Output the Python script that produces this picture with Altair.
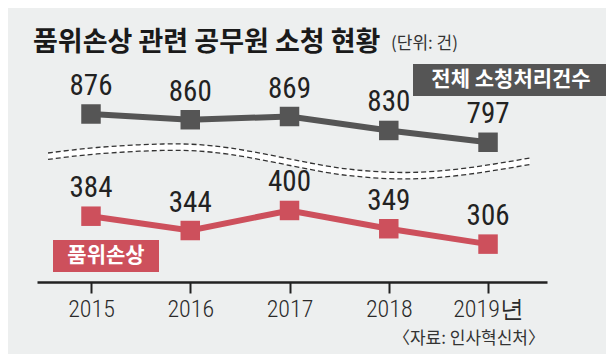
import altair as alt
import pandas as pd

# ---- data ----
years = [2015, 2016, 2017, 2018, 2019]
year_labels = ["2015", "2016", "2017", "2018", "2019년"]
total_cases = [876, 860, 869, 830, 797]      # 전체 소청처리건수
dignity_cases = [384, 344, 400, 349, 306]    # 품위손상

# axis-break squiggle (upper / lower edge, in the upper panel's value units)
break_years = [2014.567, 2015.061, 2015.726, 2016.401, 2017.207, 2017.680, 2018.184, 2018.789, 2019.423]
break_upper = [767.1, 782.4, 792.2, 781.0, 739.1, 719.6, 712.6, 725.2, 753.1]
break_lower = [v - 18 for v in break_upper]

title_text = "품위손상 관련 공무원 소청 현황"
unit_text = "(단위: 건)"
total_label = "전체 소청처리건수"
dignity_label = "품위손상"
source_text = "〈자료: 인사혁신처〉"

# ---- styling ----
BG = "#edefef"
GRAY = "#555555"
RED = "#cd505c"
NUM_FONT = "Roboto Condensed, Liberation Sans Narrow, Arial Narrow, Liberation Sans, sans-serif"
KR_FONT = "Noto Sans CJK KR"

X_DOMAIN = [2014.456, 2019.594]
GRAY_DOMAIN = [406.7, 1172.1]
RED_DOMAIN = [200.2, 965.6]

W, H = 510, 274

df_total = pd.DataFrame({"year": years, "value": total_cases})
df_dig = pd.DataFrame({"year": years, "value": dignity_cases})
df_break = pd.DataFrame({"year": break_years, "upper": break_upper, "lower": break_lower})
df_break_long = pd.concat([
    pd.DataFrame({"year": break_years, "v": break_upper, "edge": "u"}),
    pd.DataFrame({"year": break_years, "v": break_lower, "edge": "l"}),
])

label_expr = " : ".join(
    f"datum.value == {y} ? '{l}'" for y, l in zip(years, year_labels)
) + " : ''"

x_axis = alt.Axis(
    values=years, labelExpr=label_expr, title=None, grid=False,
    domainColor="#222222", domainWidth=2.5, tickColor="#222222", tickWidth=2,
    tickSize=11, labelFont=NUM_FONT, labelFontSize=24, labelFontWeight=300,
    labelColor="#2a2a2a", labelPadding=4, labelOverlap=False, labelFlush=False,
)
xs = alt.Scale(domain=X_DOMAIN, nice=False, zero=False)


def X(field="year"):
    return alt.X(f"{field}:Q", scale=xs, axis=x_axis)


def Y(field, domain):
    return alt.Y(f"{field}:Q", scale=alt.Scale(domain=domain, nice=False, zero=False), axis=None)


one = pd.DataFrame({"k": [0]})

# break band
band = alt.Chart(df_break).mark_area(color="#ffffff", interpolate="natural").encode(
    x=X(), y=Y("upper", GRAY_DOMAIN), y2="lower:Q"
)
band_lines = alt.Chart(df_break_long).mark_line(
    color="#333333", strokeWidth=1.3, strokeDash=[5, 3], interpolate="natural"
).encode(x=X(), y=Y("v", GRAY_DOMAIN), detail="edge:N")

# total series
g_line = alt.Chart(df_total).mark_line(color=GRAY, strokeWidth=6).encode(x=X(), y=Y("value", GRAY_DOMAIN))
g_pts = alt.Chart(df_total).mark_square(color=GRAY, size=380, opacity=1).encode(x=X(), y=Y("value", GRAY_DOMAIN))
g_txt = alt.Chart(df_total).mark_text(
    font=NUM_FONT, fontSize=29, dy=-19, baseline="alphabetic", color="#222222"
).encode(x=X(), y=Y("value", GRAY_DOMAIN), text="value:Q")

# dignity series
r_line = alt.Chart(df_dig).mark_line(color=RED, strokeWidth=6).encode(x=X(), y=Y("value", RED_DOMAIN))
r_pts = alt.Chart(df_dig).mark_square(color=RED, size=380, opacity=1).encode(x=X(), y=Y("value", RED_DOMAIN))
r_txt = alt.Chart(df_dig).mark_text(
    font=NUM_FONT, fontSize=29, dy=-19, baseline="alphabetic", color="#222222"
).encode(x=X(), y=Y("value", RED_DOMAIN), text="value:Q")

# annotations (title, series tags, source)
title = alt.Chart(one).mark_text(
    font=KR_FONT, fontSize=27, fontWeight="bold", align="left", baseline="middle", color="#1a1a1a"
).encode(x=alt.value(-4), y=alt.value(35), text=alt.value(title_text))
unit = alt.Chart(one).mark_text(
    font=KR_FONT, fontSize=17, align="left", baseline="middle", color="#333333"
).encode(x=alt.value(354), y=alt.value(36), text=alt.value(unit_text))

g_box = alt.Chart(one).mark_rect(color=GRAY).encode(
    x=alt.value(376), x2=alt.value(570), y=alt.value(56), y2=alt.value(88)
)
g_box_txt = alt.Chart(one).mark_text(
    font=KR_FONT, fontSize=21, fontWeight="bold", color="#ffffff", baseline="middle"
).encode(x=alt.value(474), y=alt.value(72), text=alt.value(total_label))

r_box = alt.Chart(one).mark_rect(color=RED).encode(
    x=alt.value(16), x2=alt.value(122), y=alt.value(232), y2=alt.value(264)
)
r_box_txt = alt.Chart(one).mark_text(
    font=KR_FONT, fontSize=21, fontWeight="bold", color="#ffffff", baseline="middle"
).encode(x=alt.value(69), y=alt.value(248), text=alt.value(dignity_label))

source = alt.Chart(one).mark_text(
    font=KR_FONT, fontSize=17, align="right", baseline="middle", color="#333333"
).encode(x=alt.value(508), y=alt.value(331), text=alt.value(source_text))

chart = alt.layer(
    band, band_lines, g_line, g_pts, g_txt, r_line, r_pts, r_txt,
    title, unit, g_box, g_box_txt, r_box, r_box_txt, source,
).resolve_scale(y="independent").properties(
    width=W, height=H,
    autosize=alt.AutoSizeParams(type="none"),
    padding={"left": 29, "top": 0, "right": 59, "bottom": 72},
    background=BG,
).configure_view(stroke=None)

chart.save("out.html", embed_options={"renderer": "svg", "actions": False})
